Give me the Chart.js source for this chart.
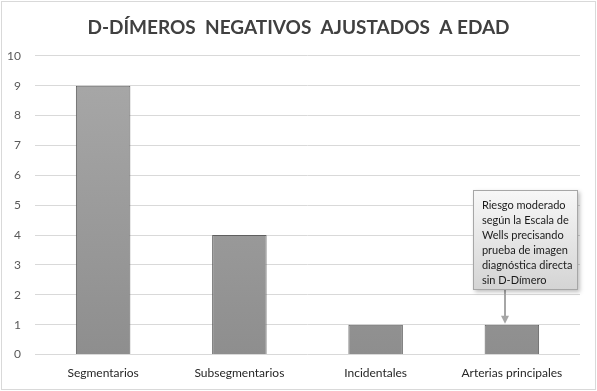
<!DOCTYPE html>
<html>
<head>
<meta charset="utf-8">
<script src="https://cdn.jsdelivr.net/npm/chart.js@4"></script>
<style>
  body { margin: 0; background: #fff; }
  #wrap { width: 597px; height: 391px; }
</style>
</head>
<body>
<div id="wrap"><canvas id="myChart" width="597" height="391"></canvas></div>
<script>
// data
var categorias = ['Segmentarios', 'Subsegmentarios', 'Incidentales', 'Arterias principales'];
var valores = [9, 4, 1, 1];
var tituloTexto = 'D-DÍMEROS  NEGATIVOS  AJUSTADOS  A EDAD';
var notaTexto = ['Riesgo moderado', 'según la Escala de', 'Wells precisando', 'prueba de imagen', 'diagnóstica directa', 'sin D-Dímero'];
var notaIndice = 3;

// fondo blanco + marco gris
const fondo = {
  id: 'fondo',
  beforeDraw(chart) {
    const c = chart.ctx;
    c.save();
    c.fillStyle = '#fff';
    c.fillRect(0, 0, chart.width, chart.height);
    c.strokeStyle = '#d9d9d9';
    c.lineWidth = 1;
    c.strokeRect(1.5, 1.5, chart.width - 3, chart.height - 3);
    c.restore();
  }
};

// cuadro de texto con flecha sobre la barra indicada
const nota = {
  id: 'nota',
  afterDraw(chart) {
    const c = chart.ctx;
    const bar = chart.getDatasetMeta(0).data[notaIndice];
    const x = chart.scales.x.getPixelForValue(notaIndice);
    const yTop = bar.y;
    const bx = x - 39, bw = 105, bh = 100;
    const by = yTop - 135;
    const ax = Math.round(x - 7);
    c.save();
    // flecha
    c.strokeStyle = '#a6a6a6';
    c.fillStyle = '#a6a6a6';
    c.lineWidth = 2;
    c.beginPath();
    c.moveTo(ax, by + bh);
    c.lineTo(ax, yTop - 8);
    c.stroke();
    c.beginPath();
    c.moveTo(ax - 4, yTop - 9);
    c.lineTo(ax + 4, yTop - 9);
    c.lineTo(ax, yTop - 1);
    c.closePath();
    c.fill();
    // caja
    c.shadowColor = 'rgba(0,0,0,0.25)';
    c.shadowBlur = 4;
    c.shadowOffsetX = 2;
    c.shadowOffsetY = 2;
    const g = c.createLinearGradient(0, by, 0, by + bh);
    g.addColorStop(0, '#f7f7f7');
    g.addColorStop(1, '#d4d4d4');
    c.fillStyle = g;
    c.fillRect(bx, by, bw, bh);
    c.shadowColor = 'transparent';
    c.strokeStyle = '#a6a6a6';
    c.lineWidth = 1;
    c.strokeRect(Math.round(bx) + 0.5, Math.round(by) + 0.5, bw - 1, bh - 1);
    c.fillStyle = '#1a1a1a';
    c.font = '11px Lato';
    c.textBaseline = 'middle';
    notaTexto.forEach(function (t, i) {
      c.fillText(t, bx + 9, by + 16 + i * 15);
    });
    c.restore();
  }
};

var ctx = document.getElementById('myChart');
var myChart = new Chart(ctx, {
  type: 'bar',
  data: {
    labels: categorias,
    datasets: [{
      data: valores,
      backgroundColor: function (context) {
        const area = context.chart.chartArea;
        if (!area) return '#999';
        const g = context.chart.ctx.createLinearGradient(0, area.top, 0, area.bottom);
        g.addColorStop(0, '#a9a9a9');
        g.addColorStop(1, '#8e8e8e');
        return g;
      },
      borderColor: '#5f5f5f',
      borderWidth: 1,
      categoryPercentage: 0.4,
      barPercentage: 1
    }]
  },
  options: {
    responsive: false,
    animation: false,
    layout: { padding: { left: 6, right: 6, top: 4, bottom: 0 } },
    plugins: {
      legend: { display: false },
      tooltip: { enabled: false },
      title: {
        display: true,
        text: tituloTexto,
        color: '#404040',
        font: { family: 'Lato', size: 19, weight: 'bold' },
        padding: { top: 12, bottom: 17 }
      }
    },
    scales: {
      x: {
        grid: { display: false, drawTicks: false, tickLength: 0 },
        border: { display: false },
        ticks: { color: '#262626', font: { family: 'Lato', size: 12 }, padding: 11 }
      },
      y: {
        min: 0,
        max: 10,
        afterFit: function (scale) { scale.width = 29; },
        ticks: { stepSize: 1, color: '#595959', font: { family: 'Lato', size: 12 }, padding: 14 },
        grid: { color: '#d9d9d9', drawTicks: false },
        border: { display: false }
      },
      // eje vacío a la derecha, solo para dejar el margen
      yRight: {
        position: 'right',
        min: 0,
        max: 10,
        afterFit: function (scale) { scale.width = 11; },
        ticks: { display: false },
        grid: { display: false, drawTicks: false },
        border: { display: false }
      }
    }
  },
  plugins: [fondo, nota]
});
</script>
</body>
</html>
